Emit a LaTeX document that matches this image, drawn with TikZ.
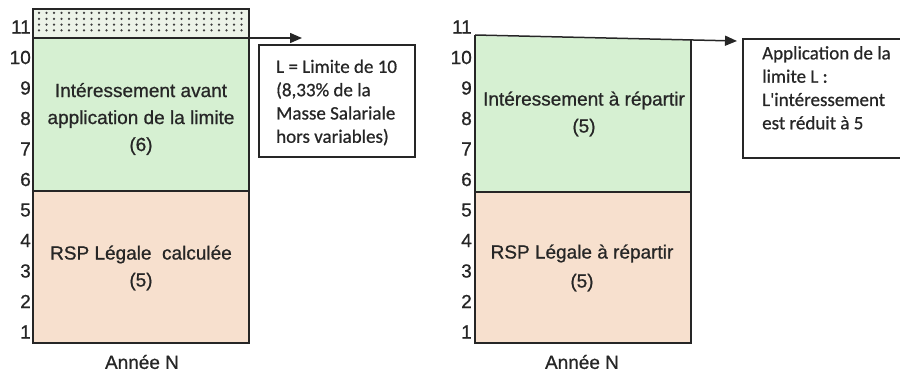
\documentclass[tikz,border=0pt]{standalone}
\usepackage{fontspec}
\setmainfont{Liberation Sans}
\newfontfamily\barfont[FakeBold=0.8]{Liberation Sans}
\newfontfamily\boxfont[FakeBold=0.7]{Carlito}
\usetikzlibrary{arrows.meta}
\definecolor{greenfill}{RGB}{214,240,210}
\definecolor{peachfill}{RGB}{247,224,206}
\definecolor{dotfill}{RGB}{236,243,232}
\definecolor{ink}{RGB}{38,38,38}
\begin{document}
\begin{tikzpicture}[x=1pt,y=-1pt,
  barline/.style={draw=ink,line width=1.4pt},
  bartext/.style={align=center,text=ink,font=\barfont\fontsize{19}{27}\selectfont,inner sep=0pt},
  tick/.style={anchor=east,text=ink,font=\barfont\fontsize{19}{19}\selectfont,inner sep=0pt},
  notebox/.style={draw=ink,line width=1.3pt},
  notetext/.style={anchor=north west,align=left,text=ink,font=\boxfont\fontsize{19}{23.3}\selectfont,inner sep=0pt},
  limarrow/.style={draw=ink,line width=1.5pt,-{Triangle[length=12pt,width=10pt]}}]
\useasboundingbox (0,0) rectangle (900,374);

% ---------- left bar: before the limit ----------
\coordinate (L-top) at (33,9);
\coordinate (L-lim) at (249,38);
\coordinate (L-mid) at (249,191);
\coordinate (L-bot) at (33,343);
\fill[dotfill] (33,9) rectangle (249,38);
\foreach \r in {0,...,3}
  \foreach \c in {0,...,27}
    \fill[ink!90] (39+\c*7.5, 13+\r*5.8) circle (1.25);
\fill[greenfill] (33,38) rectangle (249,191);
\fill[peachfill] (33,191) rectangle (249,343);
\draw[barline] (L-top) rectangle (249,343);
\draw[barline] (33,191) -- (L-mid);
\draw[draw=ink,line width=1.8pt] (33,38) -- (L-lim);

\foreach \k in {1,...,11}
  \node[tick] (Lt\k) at (31,{27+30.5*(11-\k)}) {\k};

\node[bartext] (L-int) at (141,119) {Intéressement avant\\application de la limite\\(6)};
\node[bartext] (L-rsp) at (141,268) {RSP Légale \ calculée\\(5)};
\node[bartext] (L-year) at (142,362) {Année N};

% limit arrow and note
\coordinate (L-tip) at (302,38);
\draw[limarrow] (L-lim) -- (L-tip);
\draw[notebox] (259,45) rectangle (415,157);
\node[notetext] (L-note) at (276,59.5) {L = Limite de 10\\(8,33\% de la\\Masse Salariale\\hors variables)};

% ---------- right bar: after the limit ----------
\coordinate (R-tl) at (475,35);
\coordinate (R-tr) at (691,40);
\coordinate (R-tip) at (737,41);
\fill[greenfill] (475,36) -- (691,40.5) -- (691,192) -- (475,192) -- cycle;
\fill[peachfill] (475,192) rectangle (691,343);
\draw[barline] (R-tl) -- (475,343) -- (691,343) -- (R-tr);
\draw[barline] (475,192) -- (691,192);
\draw[limarrow] (R-tl) -- (R-tip);

\foreach \k in {1,...,11}
  \node[tick] (Rt\k) at (472,{27+30.5*(11-\k)}) {\k};

\node[bartext] (R-int) at (584,114) {Intéressement à répartir\\(5)};
\node[bartext,font=\barfont\fontsize{19}{29}\selectfont] (R-rsp) at (582,268) {RSP Légale à répartir\\(5)};
\node[bartext] (R-year) at (582,362) {Année N};

\draw[notebox] (743,39) rectangle (906,158);
\node[notetext] (R-note) at (762,46) {Application de la\\limite L :\\L'intéressement\\est réduit à 5};
\end{tikzpicture}
\end{document}
